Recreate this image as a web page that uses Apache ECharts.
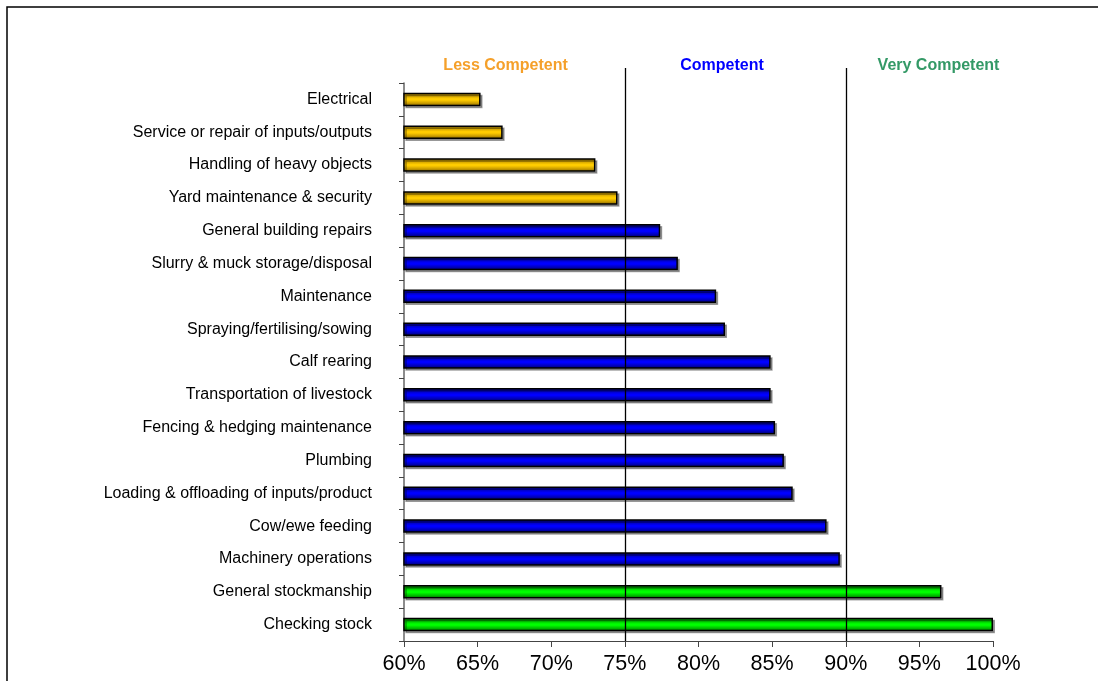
<!DOCTYPE html>
<html>
<head>
<meta charset="utf-8">
<script src="https://cdn.jsdelivr.net/npm/echarts@6/dist/echarts.min.js"></script>
<style>
  html, body { margin: 0; padding: 0; background: #fff; }
  #chart { width: 1098px; height: 681px; }
</style>
</head>
<body>
<div id="chart"></div>
<script>
// Farm task competence scores (percent), listed top to bottom
const tasks = [
  'Electrical',
  'Service or repair of inputs/outputs',
  'Handling of heavy objects',
  'Yard maintenance & security',
  'General building repairs',
  'Slurry & muck storage/disposal',
  'Maintenance',
  'Spraying/fertilising/sowing',
  'Calf rearing',
  'Transportation of livestock',
  'Fencing & hedging maintenance',
  'Plumbing',
  'Loading & offloading of inputs/product',
  'Cow/ewe feeding',
  'Machinery operations',
  'General stockmanship',
  'Checking stock'
];
const scores = [65.2, 66.7, 73.0, 74.5, 77.4, 78.6, 81.2, 81.8, 84.9, 84.9, 85.2, 85.8, 86.4, 88.7, 89.6, 96.5, 100.0];

// Competence band boundaries and headings
const bandLimits = [75, 90];
const bandNames = ['Less Competent', 'Competent', 'Very Competent'];
const bandLabelAt = [66.9, 81.6, 96.3];
const xTicks = [60, 65, 70, 75, 80, 85, 90, 95, 100];

function gradient(edge, mid, core) {
  return new echarts.graphic.LinearGradient(0, 0, 0, 1, [
    { offset: 0, color: edge },
    { offset: 0.22, color: mid },
    { offset: 0.45, color: core },
    { offset: 0.55, color: core },
    { offset: 0.78, color: mid },
    { offset: 1, color: edge }
  ]);
}
const fills = [
  gradient('#7a5c00', '#c99c00', '#ffcc00'),
  gradient('#00005a', '#0000b8', '#0000ff'),
  gradient('#006000', '#00b800', '#00ff00')
];
const bandColors = ['#f5a02a', '#0000ff', '#339966'];

function bandOf(v) {
  if (v < bandLimits[0]) return 0;
  if (v < bandLimits[1]) return 1;
  return 2;
}

const chart = echarts.init(document.getElementById('chart'));
const font = '"Liberation Sans", Arial, sans-serif';

chart.setOption({
  animation: false,
  grid: { left: 404, right: 105, top: 83, bottom: 40 },
  xAxis: {
    type: 'value',
    min: 60, max: 100, interval: 5,
    axisLine: { show: true, lineStyle: { color: '#444', width: 1 } },
    axisTick: { show: true, length: 6, lineStyle: { color: '#444' } },
    splitLine: { show: false },
    axisLabel: {
      margin: 12,
      color: '#000',
      fontFamily: font,
      fontSize: 21.5,
      formatter: v => xTicks.includes(v) ? v + '%' : ''
    }
  },
  yAxis: {
    type: 'category',
    data: tasks,
    inverse: true,
    axisLine: { show: true, lineStyle: { color: '#666', width: 1.5 } },
    axisTick: { show: true, length: 5, lineStyle: { color: '#444' } },
    axisLabel: {
      margin: 32,
      color: '#000',
      fontFamily: font,
      fontSize: 16
    }
  },
  series: [{
    type: 'bar',
    barWidth: 13.5,
    data: scores.map(v => ({
      value: v,
      itemStyle: {
        color: fills[bandOf(v)],
        borderColor: '#000',
        borderWidth: 1.5,
        shadowColor: 'rgba(0,0,0,0.35)',
        shadowOffsetX: 2,
        shadowOffsetY: 2,
        shadowBlur: 0
      }
    }))
  }]
});

// Band divider lines and headings, placed through the value axis scale
const lineTop = 68;
const lineBottom = 641;
const elements = [
  // outer frame edge
  { type: 'rect', shape: { x: 7, y: 7, width: 1300, height: 900 },
    style: { fill: 'none', stroke: '#000', lineWidth: 1.5 }, silent: true }
];
bandLimits.forEach(v => {
  const x = Math.round(chart.convertToPixel({ xAxisIndex: 0 }, v)) + 0.5;
  elements.push({
    type: 'line', z: 10,
    shape: { x1: x, y1: lineTop, x2: x, y2: lineBottom },
    style: { stroke: '#000', lineWidth: 1.3 }
  });
});
bandNames.forEach((name, i) => {
  elements.push({
    type: 'text', z: 10,
    x: chart.convertToPixel({ xAxisIndex: 0 }, bandLabelAt[i]),
    y: 66,
    style: {
      text: name,
      fill: bandColors[i],
      font: 'bold 16px ' + font,
      textAlign: 'center',
      textVerticalAlign: 'middle'
    }
  });
});
chart.setOption({ graphic: { elements } });
</script>
</body>
</html>
